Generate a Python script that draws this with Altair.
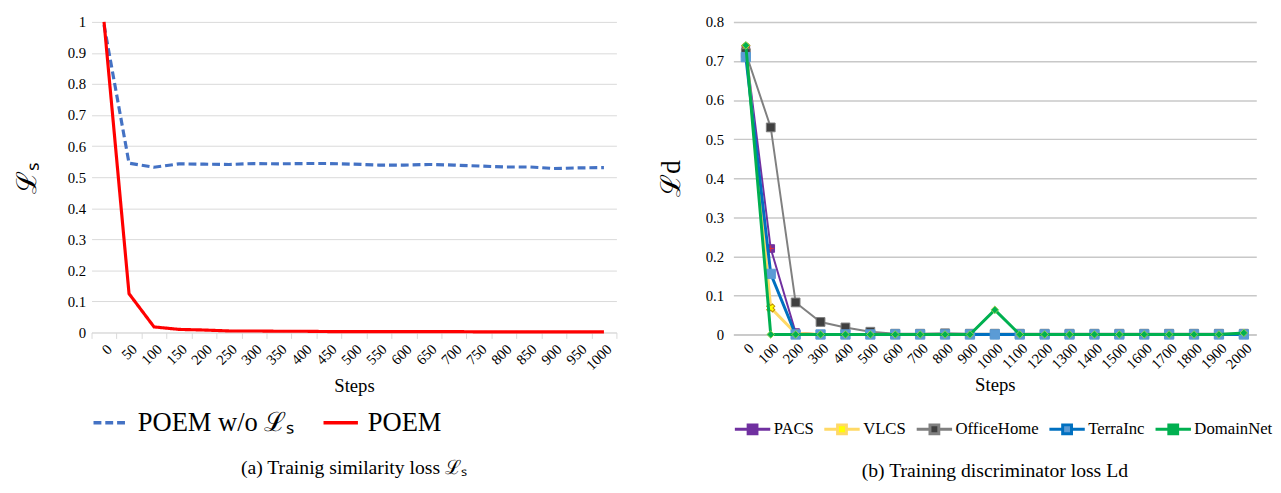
import altair as alt
import pandas as pd

# ---------------- data: panel (a) ----------------
steps_a = ["0", "50", "100", "150", "200", "250", "300", "350", "400", "450", "500",
           "550", "600", "650", "700", "750", "800", "850", "900", "950", "1000"]
poem_wo = [0.99, 0.545, 0.532, 0.543, 0.542, 0.541, 0.544, 0.543, 0.544, 0.544, 0.542,
           0.539, 0.539, 0.541, 0.539, 0.536, 0.533, 0.533, 0.528, 0.530, 0.531]
poem = [1.0, 0.125, 0.018, 0.010, 0.008, 0.005, 0.005, 0.004, 0.004, 0.003, 0.003,
        0.003, 0.003, 0.003, 0.003, 0.002, 0.002, 0.002, 0.002, 0.002, 0.002]
series_a = ["POEM w/o ℒₛ", "POEM"]

# ---------------- data: panel (b) ----------------
steps_b = ["0", "100", "200", "300", "400", "500", "600", "700", "800", "900", "1000",
           "1100", "1200", "1300", "1400", "1500", "1600", "1700", "1800", "1900", "2000"]
pacs = [0.73, 0.22, 0.005, 0, 0, 0, 0, 0, 0, 0, 0, 0, 0, 0, 0, 0, 0, 0, 0, 0, 0]
vlcs = [0.735, 0.068, 0.003, 0, 0, 0, 0, 0, 0, 0, 0, 0, 0, 0, 0, 0, 0, 0, 0, 0, 0]
officehome = [0.72, 0.53, 0.082, 0.032, 0.018, 0.007, 0.002, 0.002, 0.003, 0.002, 0.002,
              0.002, 0.002, 0.002, 0.002, 0.002, 0.002, 0.002, 0.002, 0.002, 0.002]
terrainc = [0.71, 0.155, 0.0, 0, 0, 0, 0, 0, 0, 0, 0, 0, 0, 0, 0, 0, 0, 0, 0, 0, 0]
domainnet = [0.74, 0.0, 0, 0, 0, 0, 0, 0, 0, 0, 0.063, 0, 0, 0, 0, 0, 0, 0, 0, 0, 0.004]
series_b = ["PACS", "VLCS", "OfficeHome", "TerraInc", "DomainNet"]

FONT = "Liberation Serif"
AX = dict(labelFont=FONT, labelFontSize=15, labelColor="black",
          titleFont=FONT, titleFontWeight="normal", titleColor="black")

# ---------------- panel (a) ----------------
df_a = pd.DataFrame({
    "step": steps_a * 2,
    "value": poem_wo + poem,
    "series": [series_a[0]] * len(steps_a) + [series_a[1]] * len(steps_a),
})

legend_a = alt.Legend(orient="bottom", direction="horizontal", title=None,
                      labelFont=FONT, labelFontSize=27, labelColor="black",
                      symbolType="stroke", symbolSize=1225, symbolStrokeWidth=3.5,
                      offset=8, columnPadding=22, labelOffset=8, labelLimit=0)

chart_a = alt.Chart(df_a).mark_line(strokeWidth=3.2).encode(
    x=alt.X("step:O", sort=steps_a, bandPosition=0.5,
            scale=alt.Scale(type="band", paddingInner=0, paddingOuter=0),
            axis=alt.Axis(title="Steps", labelAngle=-45, tickBand="extent",
                          ticks=True, tickColor="#d9d9d9", tickSize=6,
                          domainColor="#d9d9d9", labelPadding=3,
                          titlePadding=4, titleFontSize=19, **AX)),
    y=alt.Y("value:Q", scale=alt.Scale(domain=[0, 1], nice=False),
            axis=alt.Axis(title="ℒₛ", values=[0, 0.1, 0.2, 0.3, 0.4, 0.5, 0.6, 0.7, 0.8, 0.9, 1],
                          format="~g", gridColor="#d9d9d9", domain=False, ticks=False,
                          labelPadding=6, titlePadding=26, titleFontSize=28, **AX)),
    color=alt.Color("series:N", scale=alt.Scale(domain=series_a, range=["#4472C4", "#FF0000"]),
                    legend=legend_a),
    strokeDash=alt.StrokeDash("series:N", scale=alt.Scale(domain=series_a, range=[[8, 4], [1, 0]]),
                              legend=legend_a),
).properties(
    width=534, height=316,
    title=alt.TitleParams("(a) Trainig similarity loss ℒₛ", orient="bottom", anchor="middle",
                          font=FONT, fontSize=20, fontWeight="normal", color="black", offset=23),
)

# ---------------- panel (b) ----------------
df_b = pd.DataFrame({
    "step": steps_b * 5,
    "value": pacs + vlcs + officehome + terrainc + domainnet,
    "series": sum([[s] * len(steps_b) for s in series_b], []),
})

line_colors = ["#7030A0", "#FFD966", "#808080", "#0070C0", "#00B050"]
marker_fill = ["#7030A0", "#FFFF00", "#404040", "#5B9BD5", "#00B050"]
marker_stroke = ["#7030A0", "#BF9000", "#808080", "#5B9BD5", "#92D050"]
marker_shape = ["square", "cross", "square", "square", "diamond"]
marker_angle = [0, 45, 0, 0, 0]
marker_size = [60, 70, 80, 90, 60]
line_width = [2, 3, 2, 3, 3]

LEG_PATH = "M-1,0H-0.25M0.25,0H1M-0.25,-0.25H0.25V0.25H-0.25Z"
legend_b = alt.Legend(orient="bottom", direction="horizontal", title=None,
                      labelFont=FONT, labelFontSize=17, labelColor="black",
                      symbolType=LEG_PATH, symbolSize=1296, symbolStrokeWidth=3,
                      symbolOpacity=1, offset=16, columnPadding=4, labelOffset=2,
                      labelLimit=0)

x_b = alt.X("step:O", sort=steps_b,
            scale=alt.Scale(domain=steps_b),
            axis=alt.Axis(title="Steps", labelAngle=-45, ticks=False,
                          domainColor="#bfbfbf", labelPadding=6, titlePadding=4,
                          titleFontSize=19, **AX))
y_b = alt.Y("value:Q", scale=alt.Scale(domain=[0, 0.8], nice=False),
            axis=alt.Axis(title="ℒd", values=[0, 0.1, 0.2, 0.3, 0.4, 0.5, 0.6, 0.7, 0.8],
                          format="~g", gridColor="#c8c8c8", gridWidth=1.5, domain=False,
                          ticks=False, labelPadding=10, titlePadding=20, titleFontSize=28, **AX))

base_b = alt.Chart(df_b)
layers = []
for i, s in enumerate(series_b):
    sub = base_b.transform_filter(alt.datum.series == s)
    layers.append(sub.mark_line(strokeWidth=line_width[i]).encode(
        x=x_b, y=y_b,
        color=alt.Color("series:N", scale=alt.Scale(domain=series_b, range=line_colors),
                        legend=None)))
    layers.append(sub.mark_point(shape=marker_shape[i], filled=True, fill=marker_fill[i],
                                 stroke=marker_stroke[i], strokeWidth=1, opacity=1,
                                 size=marker_size[i], angle=marker_angle[i]).encode(x=x_b, y=y_b))
    if s == "PACS":
        # red plus inside the purple square marker
        layers.append(sub.mark_point(shape="M-1,0H1M0,-1V1", filled=False, stroke="#E03030",
                                     strokeWidth=1, opacity=1, size=40).encode(x=x_b, y=y_b))

# legend-only layer (invisible marks); legend entries come from the explicit domains
legend_layer = base_b.mark_point(
    shape=LEG_PATH, filled=True, size=1296, strokeWidth=3, opacity=0
).encode(
    x=x_b, y=y_b,
    fill=alt.Fill("series:N", scale=alt.Scale(domain=series_b, range=marker_fill), legend=legend_b),
    stroke=alt.Stroke("series:N", scale=alt.Scale(domain=series_b, range=line_colors), legend=legend_b),
)
layers.insert(0, legend_layer)

chart_b = alt.layer(*layers).properties(
    width=532, height=318,
    title=alt.TitleParams("(b) Training discriminator loss Ld", orient="bottom", anchor="middle",
                          font=FONT, fontSize=20, fontWeight="normal", color="black", offset=22),
)

chart = alt.hconcat(chart_a, chart_b, spacing=41).resolve_scale(
    x="independent", y="independent", color="independent", strokeDash="independent",
    fill="independent", stroke="independent"
).resolve_legend(
    color="independent", strokeDash="independent", fill="independent", stroke="independent"
).properties(
    padding={"left": 6, "top": 3, "right": 0, "bottom": 0}
).configure(
    font=FONT
).configure_axis(
    labelFont=FONT, titleFont=FONT, titleFontWeight="normal"
).configure_legend(
    labelFont=FONT
).configure_view(stroke=None)

chart.save("out.html", embed_options={"renderer": "svg", "actions": False})
